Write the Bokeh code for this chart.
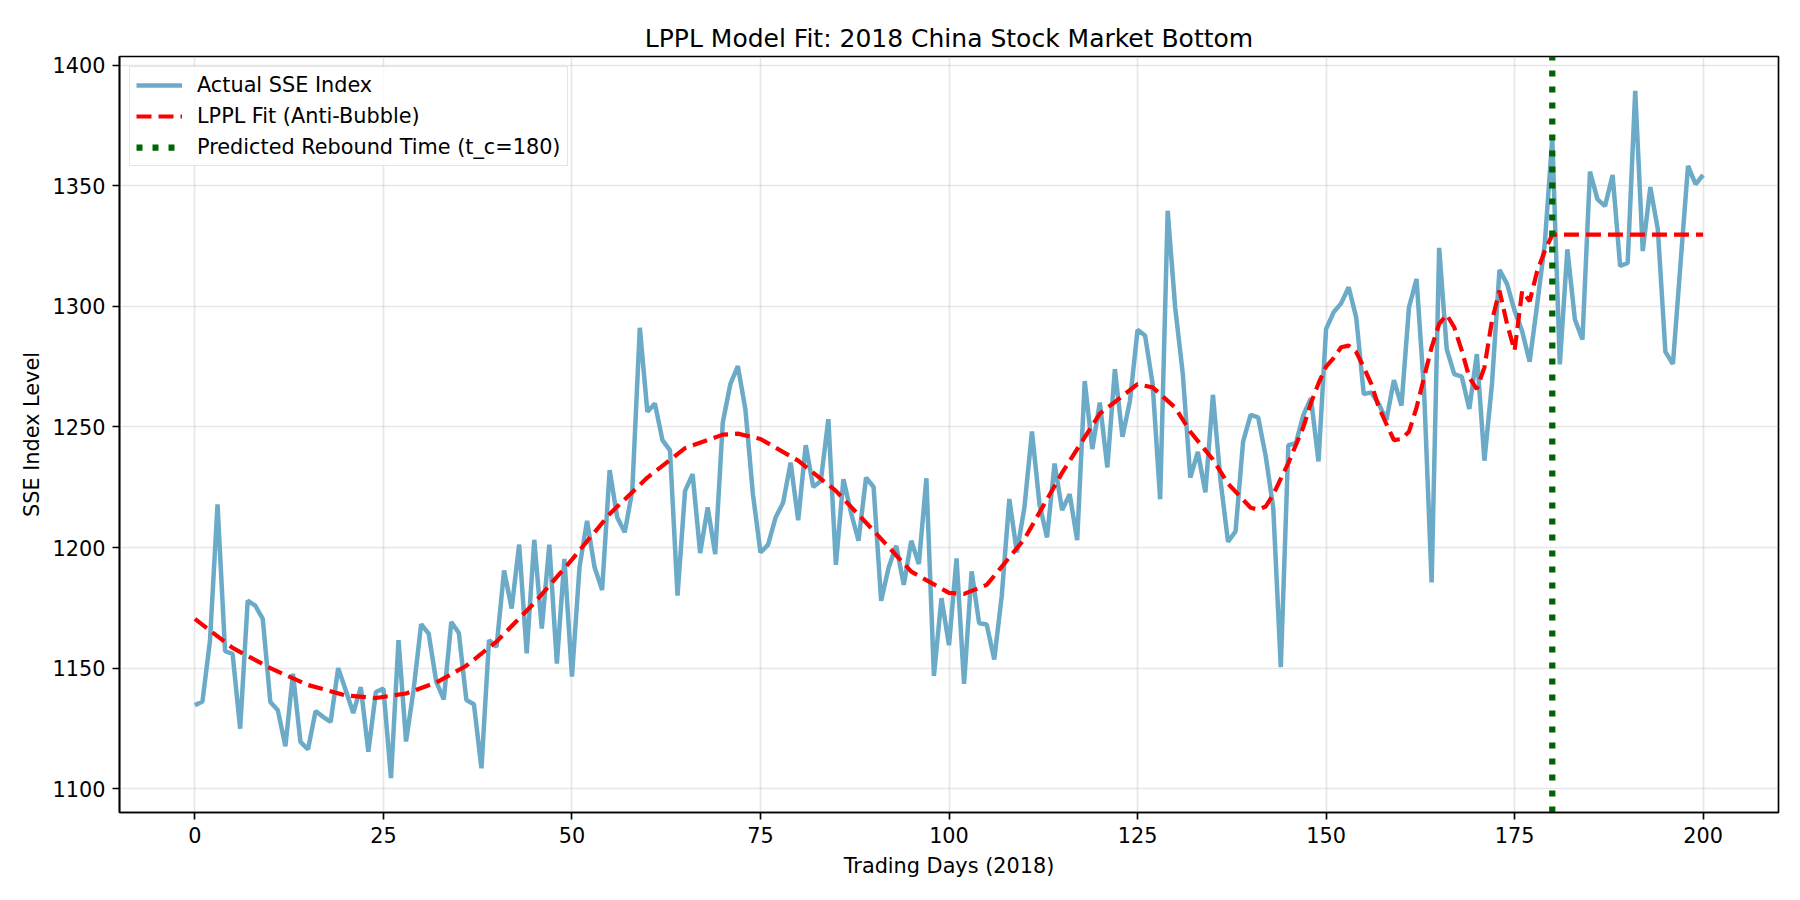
from bokeh.plotting import figure
from bokeh.models import Legend, LegendItem, Range1d, SingleIntervalTicker
from bokeh.embed import file_html
from bokeh.resources import INLINE

# Shanghai Composite (scaled) daily closes, trading days 0..200 of 2018
days = list(range(201))
sse_index = [
    1134.6, 1136.2, 1161.4, 1217.9, 1157.0, 1155.9, 1124.9, 1178.0, 1175.9, 1170.4,
    1136.0, 1132.5, 1117.6, 1147.7, 1119.4, 1116.3, 1132.2, 1129.8, 1127.7, 1150.0,
    1140.8, 1131.4, 1142.1, 1115.3, 1140.1, 1141.5, 1104.4, 1161.6, 1119.6, 1141.0,
    1168.2, 1164.3, 1144.4, 1137.0, 1169.1, 1164.6, 1136.8, 1135.0, 1108.5, 1161.6,
    1158.8, 1190.5, 1174.7, 1201.2, 1156.1, 1203.2, 1166.4, 1201.2, 1151.9, 1195.3,
    1146.5, 1191.8, 1211.1, 1191.8, 1182.4, 1232.1, 1212.5, 1206.3, 1223.5, 1291.1,
    1256.3, 1259.7, 1244.5, 1240.3, 1180.1, 1223.5, 1230.4, 1197.7, 1216.6, 1197.3,
    1251.8, 1267.7, 1275.2, 1257.3, 1222.1, 1198.0, 1201.1, 1212.4, 1218.6, 1235.2,
    1211.3, 1242.4, 1225.1, 1227.6, 1253.2, 1192.8, 1228.3, 1214.5, 1202.8, 1229.0,
    1225.1, 1177.9, 1191.7, 1200.7, 1184.5, 1202.8, 1193.1, 1228.7, 1146.8, 1179.0,
    1159.5, 1195.5, 1143.5, 1190.1, 1168.6, 1168.1, 1153.6, 1180.1, 1220.1, 1198.0,
    1216.6, 1248.1, 1218.0, 1204.2, 1234.8, 1215.5, 1222.1, 1203.1, 1269.0, 1240.8,
    1260.1, 1233.2, 1273.9, 1245.9, 1260.8, 1290.2, 1287.9, 1267.9, 1220.0, 1339.6,
    1299.3, 1272.1, 1229.0, 1239.6, 1222.9, 1263.3, 1227.9, 1202.4, 1206.7, 1243.9,
    1255.0, 1253.9, 1237.9, 1216.4, 1150.4, 1242.4, 1243.3, 1255.0, 1261.9, 1235.7,
    1290.5, 1297.5, 1301.2, 1307.9, 1295.4, 1263.6, 1264.3, 1259.5, 1252.8, 1269.4,
    1258.8, 1299.6, 1311.3, 1265.0, 1185.5, 1324.2, 1282.3, 1271.9, 1270.8, 1257.4,
    1280.2, 1236.0, 1267.8, 1315.1, 1309.3, 1298.2, 1289.7, 1277.0, 1300.8, 1325.7,
    1369.6, 1275.9, 1323.6, 1294.5, 1286.2, 1355.8, 1344.3, 1341.6, 1354.4, 1316.7,
    1318.0, 1389.3, 1322.9, 1349.4, 1331.9, 1281.1, 1276.1, 1317.4, 1358.2, 1350.6,
    1354.4,
]

# LPPL anti-bubble fit, evaluated on trading days; constant after t_c
fit_days = [
    0, 5, 10, 15, 20, 24, 28, 32, 36, 40, 45, 50, 55, 60, 65, 70, 72, 75, 80, 85,
    90, 95, 100, 102, 105, 110, 115, 120, 125, 127, 130, 132, 135, 137, 140, 141,
    142, 143, 145, 147, 148, 149, 150, 151, 152, 153, 154, 155, 156, 157, 158, 159,
    160, 161, 162, 163, 164, 165, 166, 167, 168, 169, 170, 171, 172, 173, 174, 175,
    176, 177, 178, 179, 180, 200,
]
fit_values = [
    1170.4, 1158.4, 1150.0, 1143.0, 1138.7, 1137.6, 1139.5, 1144.0, 1151.0, 1161.0,
    1177.0, 1195.0, 1213.9, 1229.0, 1241.2, 1246.8, 1247.2, 1245.0, 1236.0, 1223.5,
    1207.0, 1190.0, 1181.2, 1180.8, 1184.5, 1203.5, 1231.0, 1255.5, 1267.7, 1266.4,
    1258.0, 1248.0, 1236.5, 1226.5, 1216.5, 1215.7, 1217.0, 1222.0, 1235.0, 1250.0,
    1260.0, 1268.0, 1275.0, 1278.5, 1283.0, 1283.7, 1281.0, 1274.7, 1267.8, 1258.1,
    1251.2, 1244.5, 1245.0, 1248.0, 1258.0, 1270.5, 1283.0, 1292.7, 1296.5, 1291.3,
    1281.6, 1270.5, 1265.7, 1274.7, 1294.0, 1306.5, 1292.7, 1281.6, 1306.3, 1302.1,
    1314.6, 1322.9, 1329.7, 1329.7,
]

t_c = 180

FONT = "DejaVu Sans"
TICK_PX = "20.8px"
LW = 1.67

x_pad = 0.05 * (max(days) - min(days))
y_pad = 0.05 * (max(sse_index) - min(sse_index))
y_lo = min(sse_index) - y_pad
y_hi = max(sse_index) + y_pad

p = figure(
    width=1800, height=900,
    output_backend="svg", toolbar_location=None,
    x_range=Range1d(min(days) - x_pad, max(days) + x_pad),
    y_range=Range1d(y_lo, y_hi),
    min_border_left=119, min_border_right=22,
    min_border_top=56, min_border_bottom=88,
    background_fill_color="white", border_fill_color="white",
)

p.title.text = "LPPL Model Fit: 2018 China Stock Market Bottom"
p.title.align = "center"
p.title.text_font = FONT
p.title.text_font_size = "25px"
p.title.text_font_style = "normal"
p.title.text_color = "black"
p.title.standoff = 7

p.xaxis.ticker = SingleIntervalTicker(interval=25)
p.yaxis.ticker = SingleIntervalTicker(interval=50)

for ax in (p.xaxis, p.yaxis):
    ax.axis_line_color = "black"
    ax.axis_line_width = LW
    ax.major_tick_line_color = "black"
    ax.major_tick_line_width = LW
    ax.major_tick_out = 7
    ax.major_tick_in = 0
    ax.minor_tick_out = 0
    ax.minor_tick_in = 0
    ax.major_label_text_font = FONT
    ax.major_label_text_font_size = TICK_PX
    ax.major_label_text_color = "black"
    ax.major_label_standoff = 7
    ax.axis_label_text_font = FONT
    ax.axis_label_text_font_size = TICK_PX
    ax.axis_label_text_font_style = "normal"
    ax.axis_label_text_color = "black"

p.xaxis.axis_label = "Trading Days (2018)"
p.yaxis.axis_label = "SSE Index Level"
p.xaxis.axis_label_standoff = 8
p.yaxis.axis_label_standoff = 6

p.grid.grid_line_color = "#b0b0b0"
p.grid.grid_line_alpha = 0.3
p.grid.grid_line_width = LW

p.outline_line_color = "black"
p.outline_line_width = LW

actual = p.line(days, sse_index, line_color="#6BABC7", line_width=4.5)
fit = p.line(fit_days, fit_values, line_color="red", line_width=4.2, line_dash="15 7")

# vertical marker at the critical time, spanning the full y range
rebound = p.line([t_c, t_c], [y_lo, y_hi], line_color="darkgreen",
                 line_width=6.25, line_dash="6 10")

legend = Legend(
    items=[
        LegendItem(label="Actual SSE Index", renderers=[actual]),
        LegendItem(label="LPPL Fit (Anti-Bubble)", renderers=[fit]),
        LegendItem(label="Predicted Rebound Time (t_c=180)", renderers=[rebound]),
    ],
    location="top_left",
    margin=10,
    padding=6,
    spacing=7,
    glyph_width=46,
    glyph_height=24,
    label_height=24,
    label_standoff=15,
    label_text_font=FONT,
    label_text_font_size=TICK_PX,
    label_text_color="black",
    border_line_color="#cccccc",
    border_line_width=LW,
    background_fill_color="white",
    background_fill_alpha=0.8,
)
p.add_layout(legend)

open("out.html", "w").write(file_html(p, INLINE))
